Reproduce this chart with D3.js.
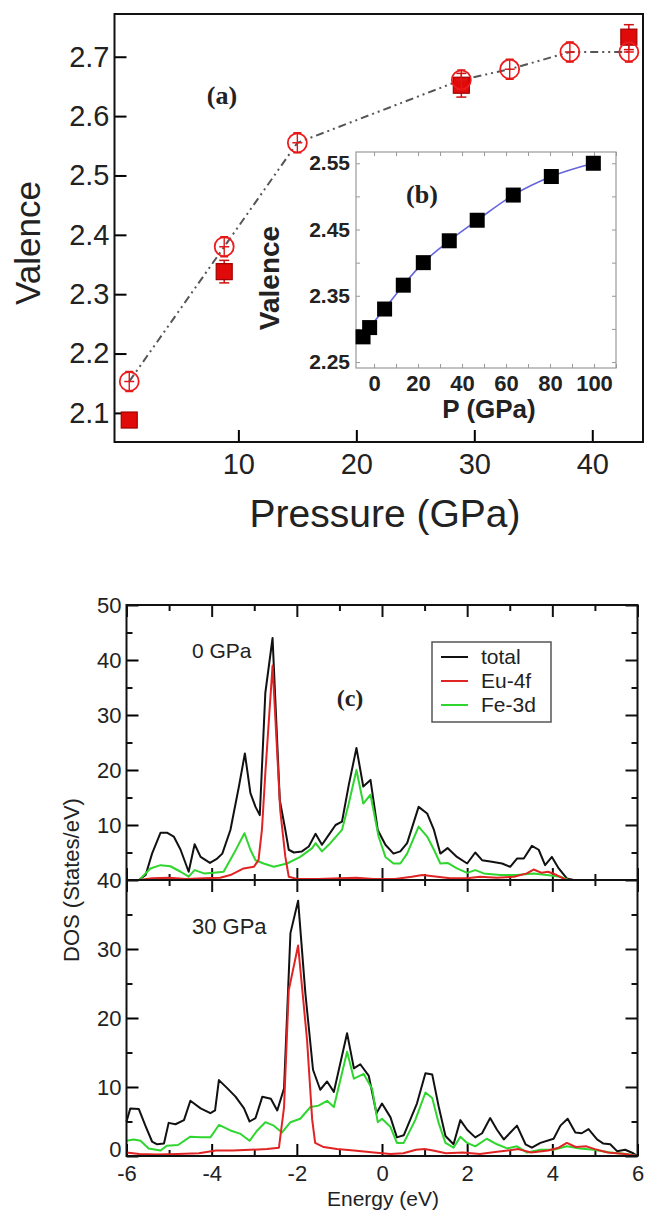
<!DOCTYPE html>
<html>
<head>
<meta charset="utf-8">
<script src="https://cdn.jsdelivr.net/npm/d3@7"></script>
<style>
body { margin: 0; background: #fff; }
svg { display: block; }
text { font-family: "Liberation Sans", Arial, sans-serif; fill: #222; }
.serif { font-family: "Liberation Serif", "Times New Roman", serif; font-weight: bold; }
</style>
</head>
<body>
<div id="chart"></div>
<script>
// (a) valence vs pressure
var pressCirc = [0.75, 8.8, 15.0, 28.9, 33.0, 38.1, 43.1];
var valCirc = [2.153, 2.380, 2.555, 2.661, 2.679, 2.708, 2.708];
var pressSq = [0.75, 8.8, 28.9, 43.1];
var valSq = [2.088, 2.338, 2.652, 2.733];
var errSq = [0.01, 0.019, 0.02, 0.021];
var pTicks = [10, 20, 30, 40];
var vTicks = [2.1, 2.2, 2.3, 2.4, 2.5, 2.6, 2.7];

// (b) inset
var pressIn = [-5, -2, 4.8, 13.3, 22.4, 34.2, 46.9, 63.3, 80.6, 99.7];
var valIn = [2.288, 2.302, 2.330, 2.366, 2.400, 2.433, 2.464, 2.502, 2.530, 2.550];
var pInTicks = [0, 20, 40, 60, 80, 100];
var vInTicks = [2.25, 2.35, 2.45, 2.55];

// (c) DOS, [energy, states/eV]
var dos0Total = [[-6,0],[-5.71,0],[-5.55,0.9],[-5.40,4.8],[-5.20,8.6],[-5.05,8.6],[-4.89,7.9],[-4.73,5.5],[-4.54,1.5],[-4.40,6.5],[-4.26,4.2],[-4.04,3.1],[-3.87,3.9],[-3.75,4.8],[-3.56,9.1],[-3.36,17],[-3.22,23],[-3.09,15.8],[-2.97,13.3],[-2.87,11.8],[-2.74,34],[-2.57,44],[-2.40,14.5],[-2.27,9.1],[-2.19,5.5],[-2.07,5.0],[-1.88,5.2],[-1.72,6.1],[-1.56,8.4],[-1.41,6.4],[-1.25,8.2],[-1.09,10],[-0.94,10.6],[-0.78,17.3],[-0.60,24],[-0.44,17],[-0.27,18.2],[-0.10,9.1],[0.08,6.4],[0.27,4.8],[0.43,5.2],[0.59,6.7],[0.86,13.3],[1.06,12.1],[1.22,9.1],[1.37,4.8],[1.54,5.8],[1.76,4.2],[2.0,3.0],[2.19,5.0],[2.35,3.6],[2.58,3.3],[2.82,3.0],[3.01,2.4],[3.17,3.9],[3.33,3.9],[3.52,6.2],[3.68,5.5],[3.83,2.7],[3.99,4.2],[4.15,2.1],[4.34,0.3],[4.5,0],[6,0]];
var dos0Eu = [[-6,0],[-5.7,0],[-5.4,0.3],[-5.0,0.4],[-4.6,0.2],[-4.2,0.3],[-3.8,0.4],[-3.56,0.9],[-3.25,2.1],[-3.01,2.4],[-2.90,3.6],[-2.82,9.1],[-2.74,19.4],[-2.57,39],[-2.39,12.7],[-2.27,4.2],[-2.19,0.6],[-2.0,0.2],[-1.5,0.2],[-1.0,0.3],[-0.6,0.4],[-0.2,0.2],[0.3,0.2],[0.7,0.6],[0.95,0.9],[1.2,0.7],[1.6,0.3],[2.0,0.3],[2.3,0.6],[2.7,0.4],[3.1,0.6],[3.4,1.2],[3.56,1.9],[3.75,1.3],[3.9,1.5],[4.1,0.9],[4.3,0.1],[4.5,0],[6,0]];
var dos0Fe = [[-6,0],[-5.7,0],[-5.44,2.1],[-5.20,2.7],[-4.97,2.5],[-4.73,1.5],[-4.54,0.6],[-4.40,1.8],[-4.18,1.2],[-3.95,1.3],[-3.72,1.5],[-3.48,4.8],[-3.23,8.5],[-3.09,5.5],[-2.97,3.6],[-2.78,3.0],[-2.54,2.4],[-2.23,3.0],[-1.92,4.2],[-1.64,5.8],[-1.56,6.7],[-1.41,5.2],[-1.25,6.4],[-0.94,9.1],[-0.78,13.9],[-0.60,20],[-0.44,13.9],[-0.27,15.5],[-0.08,7.9],[0.08,4.2],[0.27,3.0],[0.43,3.0],[0.59,4.8],[0.86,9.7],[1.06,7.9],[1.22,5.5],[1.37,3.0],[1.54,3.1],[1.76,2.1],[2.0,1.3],[2.19,1.8],[2.39,1.2],[2.78,0.9],[3.17,0.9],[3.56,1.2],[3.87,0.9],[4.19,0.6],[4.38,0],[6,0]];
var dos30Total = [[-6.0,5.0],[-5.91,6.9],[-5.71,6.8],[-5.55,4.3],[-5.40,2.1],[-5.28,1.7],[-5.12,1.8],[-5.01,4.8],[-4.85,4.6],[-4.65,5.2],[-4.50,8.0],[-4.26,6.9],[-4.03,6.2],[-3.92,6.6],[-3.83,11],[-3.63,9.8],[-3.44,8.6],[-3.24,6.9],[-3.11,5.0],[-2.97,5.5],[-2.81,8.6],[-2.61,8.3],[-2.46,6.6],[-2.30,9.8],[-2.15,32.3],[-1.97,37],[-1.80,23.6],[-1.62,12.5],[-1.45,9.6],[-1.29,10.8],[-1.13,9.3],[-0.82,17.8],[-0.66,12.7],[-0.51,13.3],[-0.31,11.6],[-0.13,6.2],[0.0,7.6],[0.20,5.6],[0.35,2.7],[0.51,3.0],[0.82,7.6],[1.02,12.0],[1.18,11.8],[1.33,7.2],[1.49,2.9],[1.68,1.7],[1.84,5.2],[2.0,3.8],[2.19,2.7],[2.35,3.3],[2.54,5.5],[2.70,3.8],[2.86,2.4],[3.17,4.4],[3.37,1.7],[3.52,1.2],[3.72,1.9],[4.03,2.5],[4.19,4.4],[4.36,5.4],[4.54,3.4],[4.69,3.3],[4.85,3.9],[5.05,2.4],[5.2,1.8],[5.36,1.7],[5.52,0.7],[5.71,0.9],[5.9,0.4],[6.0,0]];
var dos30Eu = [[-6,0.5],[-5.7,0.3],[-5.3,0.2],[-4.8,0.3],[-4.3,0.4],[-3.9,0.8],[-3.5,0.8],[-3.1,0.9],[-2.7,1.0],[-2.42,1.2],[-2.30,7.1],[-2.19,24],[-1.97,30.5],[-1.76,16.8],[-1.64,5.3],[-1.57,1.9],[-1.37,1.3],[-1.06,1.0],[-0.66,0.8],[-0.19,0.5],[0.2,0.3],[0.5,0.4],[0.8,0.9],[1.0,1.0],[1.2,0.8],[1.5,0.4],[1.9,0.5],[2.3,0.3],[2.7,0.6],[3.2,1.0],[3.5,0.5],[3.9,0.8],[4.15,1.2],[4.34,1.9],[4.55,1.3],[4.8,1.4],[5.0,1.0],[5.3,0.5],[5.7,0.3],[6,0]];
var dos30Fe = [[-6.0,2.2],[-5.83,2.4],[-5.67,2.2],[-5.48,1.1],[-5.2,0.8],[-5.05,1.5],[-4.79,1.6],[-4.50,2.8],[-4.26,2.7],[-4.03,2.7],[-3.83,4.5],[-3.56,3.7],[-3.32,3.2],[-3.11,2.2],[-2.93,3.7],[-2.74,4.9],[-2.54,4.4],[-2.35,3.4],[-2.15,4.9],[-1.92,5.4],[-1.68,7.1],[-1.49,7.3],[-1.29,8.0],[-1.13,7.1],[-0.82,15.1],[-0.66,11.2],[-0.43,11.9],[-0.23,9.7],[-0.10,4.9],[0.0,5.4],[0.20,4.2],[0.35,1.9],[0.51,1.9],[0.78,5.2],[1.02,9.2],[1.18,8.4],[1.33,4.8],[1.49,1.9],[1.68,1.2],[1.84,2.8],[2.0,1.9],[2.19,1.4],[2.46,2.5],[2.70,1.7],[2.94,1.1],[3.17,1.4],[3.41,0.5],[3.72,0.9],[4.03,0.9],[4.34,1.4],[4.65,1.1],[4.97,0.9],[5.36,0.5],[5.75,0.3],[6.0,0]];
var eTicks = [-6, -4, -2, 0, 2, 4, 6];
var topTicks = [10, 20, 30, 40, 50];
var botTicks = [0, 10, 20, 30, 40];
var legendNames = ["total", "Eu-4f", "Fe-3d"];
var legendColors = ["#111", "#e02424", "#2fd62f"];

var svg = d3.select("#chart")
  .append("svg")
  .attr("width", 645)
  .attr("height", 1210);

function styleAxis(g, size, bold) {
  g.select(".domain").remove();
  g.attr("font-size", size);
  g.selectAll("line").attr("stroke-width", 2);
  if (bold) g.selectAll("text").attr("font-weight", "bold");
}

// ---------- panel (a) ----------
var xA = d3.scaleLinear().domain([-0.5, 44.3]).range([114.5, 643]);
var yA = d3.scaleLinear().domain([2.051, 2.772]).range([442, 14]);

svg.append("g")
  .attr("transform", "translate(0,442)")
  .call(d3.axisBottom(xA).tickValues(pTicks).tickSize(-12).tickPadding(11))
  .call(function(g) { styleAxis(g, 29); });

svg.append("g")
  .attr("transform", "translate(114.5,0)")
  .call(d3.axisLeft(yA).tickValues(vTicks).tickSize(-12).tickPadding(5).tickFormat(d3.format(".1f")))
  .call(function(g) { styleAxis(g, 29); });

svg.append("rect")
  .attr("x", 114.5).attr("y", 14)
  .attr("width", 528.5).attr("height", 428)
  .attr("fill", "none").attr("stroke", "#111").attr("stroke-width", 2);

var circPts = pressCirc.map(function(p, i) { return [p, valCirc[i]]; });

svg.append("path")
  .datum(circPts)
  .attr("fill", "none")
  .attr("stroke", "#555")
  .attr("stroke-width", 2)
  .attr("stroke-dasharray", "8,4,2,4,2,4")
  .attr("d", d3.line()
    .x(function(d) { return xA(d[0]); })
    .y(function(d) { return yA(d[1]); }));

// squares with error bars
var sq = svg.selectAll(".sq")
  .data(pressSq)
  .enter()
  .append("g")
  .attr("class", "sq");
sq.append("line")
  .attr("x1", function(d) { return xA(d); })
  .attr("x2", function(d) { return xA(d); })
  .attr("y1", function(d, i) { return yA(valSq[i] + errSq[i]); })
  .attr("y2", function(d, i) { return yA(valSq[i] - errSq[i]); })
  .attr("stroke", "#d01010").attr("stroke-width", 1.5);
[1, -1].forEach(function(s) {
  sq.append("line")
    .attr("x1", function(d) { return xA(d) - 5; })
    .attr("x2", function(d) { return xA(d) + 5; })
    .attr("y1", function(d, i) { return yA(valSq[i] + s * errSq[i]); })
    .attr("y2", function(d, i) { return yA(valSq[i] + s * errSq[i]); })
    .attr("stroke", "#d01010").attr("stroke-width", 1.5);
});
sq.append("rect")
  .attr("x", function(d) { return xA(d) - 8; })
  .attr("y", function(d, i) { return yA(valSq[i]) - 8; })
  .attr("width", 16).attr("height", 16)
  .attr("fill", "#e00a0a").attr("stroke", "#a00000").attr("stroke-width", 1.2);

// open circles with cross
var ci = svg.selectAll(".ci")
  .data(circPts)
  .enter()
  .append("g")
  .attr("class", "ci")
  .attr("transform", function(d) { return "translate(" + xA(d[0]) + "," + yA(d[1]) + ")"; });
ci.append("circle").attr("r", 9.5).attr("fill", "none").attr("stroke", "#ee1c1c").attr("stroke-width", 1.8);
ci.append("path")
  .attr("d", "M0,-10V10M-4,-10H4M-4,10H4M-5,0H5")
  .attr("fill", "none").attr("stroke", "#e01818").attr("stroke-width", 1.4);

svg.append("text").attr("class", "serif")
  .attr("x", 222).attr("y", 104).attr("text-anchor", "middle")
  .attr("font-size", 26).text("(a)");

svg.append("text")
  .attr("transform", "translate(40,243) rotate(-90)")
  .attr("text-anchor", "middle").attr("font-size", 35).text("Valence");

svg.append("text")
  .attr("x", 385).attr("y", 527).attr("text-anchor", "middle")
  .attr("font-size", 39).text("Pressure (GPa)");

// ---------- inset (b) ----------
var xB = d3.scaleLinear().domain([-8.2, 110]).range([356, 616]);
var yB = d3.scaleLinear().domain([2.241, 2.567]).range([368, 152]);

svg.append("rect")
  .attr("x", 356).attr("y", 152).attr("width", 260).attr("height", 216)
  .attr("fill", "#fff").attr("stroke", "#999").attr("stroke-width", 1.2);

var minorIn = d3.range(0, 111, 10);
var vMinorIn = [2.25, 2.30, 2.35, 2.40, 2.45, 2.50, 2.55];

function thinAxis(g) {
  g.select(".domain").remove();
  g.selectAll("line").attr("stroke", "#999").attr("stroke-width", 1);
  g.selectAll("text").remove();
}
svg.append("g").attr("transform", "translate(0,152)")
  .call(d3.axisTop(xB).tickValues(minorIn).tickSize(-4)).call(thinAxis);
svg.append("g").attr("transform", "translate(0,368)")
  .call(d3.axisBottom(xB).tickValues(minorIn).tickSize(-4)).call(thinAxis);
svg.append("g").attr("transform", "translate(616,0)")
  .call(d3.axisRight(yB).tickValues(vMinorIn).tickSize(-4)).call(thinAxis);
svg.append("g").attr("transform", "translate(356,0)")
  .call(d3.axisLeft(yB).tickValues(vMinorIn).tickSize(-4)).call(thinAxis);

svg.append("g").attr("transform", "translate(0,368)")
  .call(d3.axisBottom(xB).tickValues(pInTicks).tickSize(0).tickPadding(7))
  .call(function(g) { styleAxis(g, 22, true); });
svg.append("g").attr("transform", "translate(356,0)")
  .call(d3.axisLeft(yB).tickValues(vInTicks).tickSize(0).tickPadding(6).tickFormat(d3.format(".2f")))
  .call(function(g) { styleAxis(g, 21, true); });

var inPts = pressIn.map(function(p, i) { return [p, valIn[i]]; });
svg.append("path")
  .datum(inPts)
  .attr("fill", "none").attr("stroke", "#6464dc").attr("stroke-width", 1.6)
  .attr("d", d3.line().curve(d3.curveMonotoneX)
    .x(function(d) { return xB(d[0]); })
    .y(function(d) { return yB(d[1]); }));

svg.selectAll(".insq")
  .data(inPts)
  .enter()
  .append("rect")
  .attr("class", "insq")
  .attr("x", function(d) { return xB(d[0]) - 7.5; })
  .attr("y", function(d) { return yB(d[1]) - 7.5; })
  .attr("width", 15).attr("height", 15)
  .attr("fill", "#000");

svg.append("text").attr("class", "serif")
  .attr("x", 422).attr("y", 203).attr("text-anchor", "middle")
  .attr("font-size", 26).text("(b)");
svg.append("text")
  .attr("transform", "translate(279,278) rotate(-90)")
  .attr("text-anchor", "middle").attr("font-size", 28).attr("font-weight", "bold").text("Valence");
svg.append("text")
  .attr("x", 489).attr("y", 418).attr("text-anchor", "middle")
  .attr("font-size", 26).attr("font-weight", "bold").text("P (GPa)");

// ---------- panel (c) ----------
var xC = d3.scaleLinear().domain([-6, 6]).range([126.5, 637.5]);
var yTop = d3.scaleLinear().domain([0, 50]).range([880, 605]);
var yBot = d3.scaleLinear().domain([0, 40]).range([1156, 880]);
var eMinor = d3.range(-5, 6, 2);
var plainFmt = function(d) { return String(d); };

function tickOnly(g) {
  g.select(".domain").remove();
  g.selectAll("line").attr("stroke", "#111").attr("stroke-width", 2);
  g.selectAll("text").remove();
}

[[yTop, topTicks, d3.range(5, 50, 10)], [yBot, botTicks, d3.range(5, 40, 10)]].forEach(function(p) {
  svg.append("g").attr("transform", "translate(126.5,0)")
    .call(d3.axisLeft(p[0]).tickValues(p[1]).tickSize(-12).tickPadding(5).tickFormat(plainFmt))
    .call(function(g) {
      styleAxis(g, 22);
      // lift the bottom "0" so it clears the "-6" below
      g.selectAll("text").filter(function(d) { return d === 0; }).attr("dy", "0em");
    });
  svg.append("g").attr("transform", "translate(126.5,0)")
    .call(d3.axisLeft(p[0]).tickValues(p[2]).tickSize(-6)).call(tickOnly);
  svg.append("g").attr("transform", "translate(637.5,0)")
    .call(d3.axisRight(p[0]).tickValues(p[1]).tickSize(-12)).call(tickOnly);
  svg.append("g").attr("transform", "translate(637.5,0)")
    .call(d3.axisRight(p[0]).tickValues(p[2]).tickSize(-6)).call(tickOnly);
});

svg.append("g").attr("transform", "translate(0,1156)")
  .call(d3.axisBottom(xC).tickValues(eTicks).tickSize(-12).tickPadding(9).tickFormat(plainFmt))
  .call(function(g) { styleAxis(g, 22); });
svg.append("g").attr("transform", "translate(0,1156)")
  .call(d3.axisBottom(xC).tickValues(eMinor).tickSize(-6)).call(tickOnly);
svg.append("g").attr("transform", "translate(0,605)")
  .call(d3.axisTop(xC).tickValues(eTicks).tickSize(-12)).call(tickOnly);
svg.append("g").attr("transform", "translate(0,605)")
  .call(d3.axisTop(xC).tickValues(eMinor).tickSize(-6)).call(tickOnly);
// ticks crossing the middle line
svg.append("g").attr("transform", "translate(0,880)")
  .call(d3.axisBottom(xC).tickValues(eTicks).tickSize(-12)).call(tickOnly);
svg.append("g").attr("transform", "translate(0,880)")
  .call(d3.axisTop(xC).tickValues(eTicks).tickSize(-12)).call(tickOnly);
svg.append("g").attr("transform", "translate(0,880)")
  .call(d3.axisBottom(xC).tickValues(eMinor).tickSize(-6)).call(tickOnly);
svg.append("g").attr("transform", "translate(0,880)")
  .call(d3.axisTop(xC).tickValues(eMinor).tickSize(-6)).call(tickOnly);

function drawDos(data, yScale, color) {
  svg.append("path")
    .datum(data)
    .attr("fill", "none")
    .attr("stroke", color)
    .attr("stroke-width", 2)
    .attr("stroke-linejoin", "round")
    .attr("d", d3.line()
      .x(function(d) { return xC(d[0]); })
      .y(function(d) { return yScale(d[1]); }));
}
drawDos(dos0Total, yTop, legendColors[0]);
drawDos(dos0Fe, yTop, legendColors[2]);
drawDos(dos0Eu, yTop, legendColors[1]);
drawDos(dos30Total, yBot, legendColors[0]);
drawDos(dos30Fe, yBot, legendColors[2]);
drawDos(dos30Eu, yBot, legendColors[1]);

svg.append("rect")
  .attr("x", 126.5).attr("y", 605).attr("width", 511).attr("height", 551)
  .attr("fill", "none").attr("stroke", "#111").attr("stroke-width", 2);
svg.append("line")
  .attr("x1", 126.5).attr("x2", 637.5).attr("y1", 880).attr("y2", 880)
  .attr("stroke", "#111").attr("stroke-width", 2);

// legend
var leg = svg.append("g").attr("transform", "translate(432,642)");
leg.append("rect").attr("width", 119).attr("height", 80)
  .attr("fill", "#fff").attr("stroke", "#555").attr("stroke-width", 1.5);
legendNames.forEach(function(n, i) {
  leg.append("line").attr("x1", 9).attr("x2", 36)
    .attr("y1", 15 + i * 24).attr("y2", 15 + i * 24)
    .attr("stroke", legendColors[i]).attr("stroke-width", 2);
  leg.append("text").attr("x", 49).attr("y", 22 + i * 24)
    .attr("font-size", 21).text(n);
});

svg.append("text").attr("x", 192).attr("y", 658).attr("font-size", 21).text("0 GPa");
svg.append("text").attr("x", 192).attr("y", 934).attr("font-size", 22).text("30 GPa");
svg.append("text").attr("class", "serif")
  .attr("x", 350).attr("y", 706).attr("text-anchor", "middle")
  .attr("font-size", 24).text("(c)");
svg.append("text")
  .attr("transform", "translate(79,880) rotate(-90)")
  .attr("text-anchor", "middle").attr("font-size", 22).text("DOS (States/eV)");
svg.append("text")
  .attr("x", 383).attr("y", 1206).attr("text-anchor", "middle")
  .attr("font-size", 21).text("Energy (eV)");
</script>
</body>
</html>
